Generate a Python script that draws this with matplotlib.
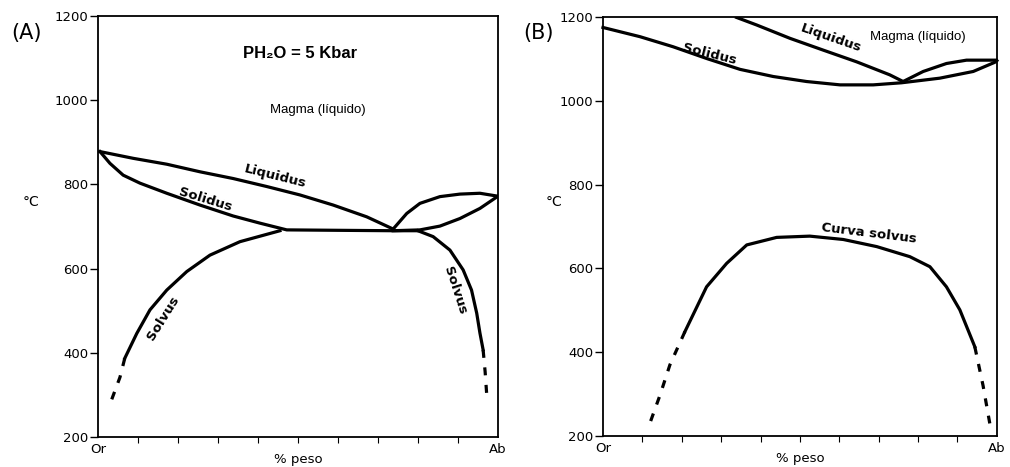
import numpy as np
import matplotlib
matplotlib.use("Agg")
import matplotlib.pyplot as plt

# ---- Panel A (PH2O = 5 Kbar) ----
liq_a_x = [0.5, 8.8, 17.2, 25.5, 33.8, 42.2, 50.5, 58.8, 67.2, 73.8]
liq_a_y = [878, 862, 848, 830, 814, 795, 775, 751, 723, 694]

sol_a_x = [0.5, 3, 6.3, 10.5, 17.2, 25.5, 33.8, 40.5, 47.2, 60, 73.8, 80]
sol_a_y = [878, 850, 822, 803, 779, 751, 725, 708, 692, 691, 690, 690]

solv_l_a_x = [6.7, 9.7, 13, 17.2, 22.2, 28, 35.5, 45.5]
solv_l_a_y = [387, 446, 502, 549, 593, 632, 664, 690]
solv_l_a_dash_x = [6.7, 5.5, 4.25, 3]
solv_l_a_dash_y = [387, 342, 310, 278]

solv_r_a_x = [80, 83.8, 88, 91.3, 93.4, 94.7, 95.5, 96.3]
solv_r_a_y = [690, 676, 644, 597, 549, 494, 447, 407]
solv_r_a_dash_x = [96.3, 96.8, 97.2]
solv_r_a_dash_y = [407, 355, 300]

loop_up_a_x = [73.8, 77.2, 80.5, 85.5, 90.5, 95.5, 100]
loop_up_a_y = [694, 731, 755, 771, 777, 779, 772]
loop_lo_a_x = [73.8, 80.5, 85.5, 90.5, 95.5, 100]
loop_lo_a_y = [690, 692, 701, 719, 743, 772]

# ---- Panel B ----
sol_b_x = [0, 9.4, 17.8, 26.3, 34.8, 43.2, 51.7, 60.2, 68.6, 75.8, 85.5, 94, 99.5, 100]
sol_b_y = [1175, 1153, 1129, 1101, 1075, 1058, 1046, 1038, 1038, 1043, 1054, 1070, 1092, 1096]

liq_b_x = [33.9, 39, 47.5, 55.9, 64.4, 72.8, 76.2]
liq_b_y = [1199, 1181, 1149, 1121, 1093, 1062, 1046]

loop_b_x = [76.2, 81.3, 87.2, 92.3, 100]
loop_b_y = [1046, 1070, 1089, 1097, 1097]

solv_b_x = [20.8, 26.3, 31.4, 36.5, 44.1, 52.5, 61, 69.5, 77.9, 83, 87.2, 90.6, 94.4]
solv_b_y = [449, 556, 612, 656, 674, 677, 669, 652, 628, 604, 556, 501, 413]
solv_b_dash_l_x = [20.8, 17, 14.5, 11.7]
solv_b_dash_l_y = [449, 370, 298, 225]
solv_b_dash_r_x = [94.4, 96.5, 98.2]
solv_b_dash_r_y = [413, 320, 230]

yticks = [200, 400, 600, 800, 1000, 1200]

lw = 2.3
dash = (0, (2.5, 3))
lab = dict(fontsize=9.5, fontweight="bold", family="DejaVu Sans", ha="center", va="center")

fig = plt.figure(figsize=(10.1, 4.67), dpi=100)
axA = fig.add_axes([0.097, 0.0642, 0.396, 0.9015])
axB = fig.add_axes([0.597, 0.0664, 0.390, 0.8972])

for ax in (axA, axB):
    ax.set_xlim(0, 100)
    ax.set_ylim(200, 1200)
    ax.set_yticks(yticks)
    ax.set_xticks([0, 100])
    ax.set_xticklabels(["Or", "Ab"])
    ax.set_xticks(np.arange(10, 100, 10), minor=True)
    ax.tick_params(axis="y", direction="out", length=6, width=1, labelsize=9.5, pad=1)
    ax.tick_params(axis="x", which="major", length=0, labelsize=9.5, pad=4)
    ax.tick_params(axis="x", which="minor", direction="out", length=4, width=0.8)
    for s in ax.spines.values():
        s.set_linewidth(1.3)
    ax.set_xlabel("% peso", fontsize=9.5, labelpad=-2)

# panel A curves
axA.plot(liq_a_x, liq_a_y, color="black", lw=lw)
axA.plot(sol_a_x, sol_a_y, color="black", lw=lw)
axA.plot(solv_l_a_x, solv_l_a_y, color="black", lw=lw)
axA.plot(solv_l_a_dash_x, solv_l_a_dash_y, color="black", lw=lw, ls=dash)
axA.plot(solv_r_a_x, solv_r_a_y, color="black", lw=lw)
axA.plot(solv_r_a_dash_x, solv_r_a_dash_y, color="black", lw=lw, ls=dash)
axA.plot(loop_up_a_x, loop_up_a_y, color="black", lw=lw)
axA.plot(loop_lo_a_x, loop_lo_a_y, color="black", lw=lw)

axA.text(44.25, 818, "Liquidus", rotation=-14, **lab)
axA.text(26.75, 763, "Solidus", rotation=-17, **lab)
axA.text(16.25, 483, "Solvus", rotation=58, **lab)
axA.text(89.25, 549, "Solvus", rotation=-72, **lab)
axA.text(50.5, 1110, "PH\u2082O = 5 Kbar", fontsize=12, fontweight="bold",
         family="Liberation Sans", ha="center", va="center")
axA.text(55, 977, "Magma (líquido)", fontsize=9.5, family="Liberation Sans",
         ha="center", va="center")

# panel B curves
axB.plot(sol_b_x, sol_b_y, color="black", lw=lw, clip_on=False)
axB.plot(liq_b_x, liq_b_y, color="black", lw=lw)
axB.plot(loop_b_x, loop_b_y, color="black", lw=lw)
axB.plot(solv_b_x, solv_b_y, color="black", lw=lw)
axB.plot(solv_b_dash_l_x, solv_b_dash_l_y, color="black", lw=lw, ls=dash)
axB.plot(solv_b_dash_r_x, solv_b_dash_r_y, color="black", lw=lw, ls=dash)

axB.text(27, 1112, "Solidus", rotation=-14, **lab)
axB.text(58, 1150, "Liquidus", rotation=-19, **lab)
axB.text(67.5, 683, "Curva solvus", rotation=-7, **lab)
axB.text(80, 1152, "Magma (líquido)", fontsize=9.5, family="Liberation Sans",
         ha="center", va="center")

fig.text(0.026, 0.929, "(A)", fontsize=15, ha="center", va="center")
fig.text(0.533, 0.929, "(B)", fontsize=15, ha="center", va="center")
fig.text(0.031, 0.567, "°C", fontsize=10, ha="center", va="center")
fig.text(0.549, 0.567, "°C", fontsize=10, ha="center", va="center")

fig.savefig("out.png", dpi=100)
